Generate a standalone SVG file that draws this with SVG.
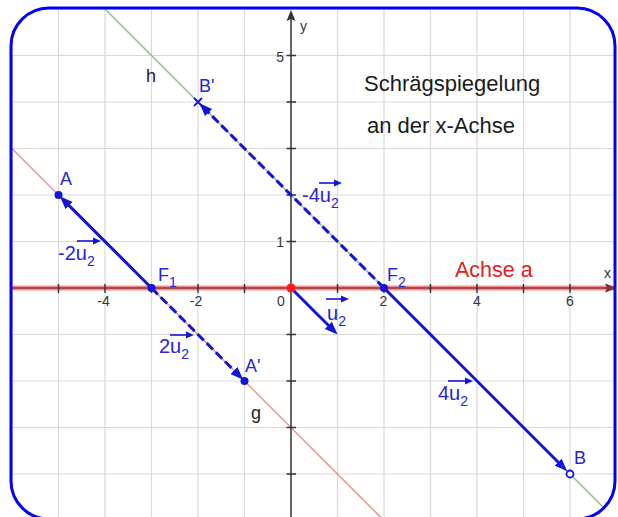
<svg xmlns="http://www.w3.org/2000/svg" width="618" height="517" viewBox="0 0 618 517">
<style>
.grid{stroke:#d9d9d9;stroke-width:1.2;fill:none}
.axis{stroke:#333;stroke-width:1.5;fill:none}
.tick{stroke:#333;stroke-width:1.4}
.albl{font-family:"Liberation Sans",Arial,sans-serif;font-size:14px;fill:#333}
.vec{stroke:#1414d9;stroke-width:3;fill:none;marker-end:url(#ah)}
.dash{stroke-dasharray:9 4}
.ov{stroke:#1414d9;stroke-width:1.6;fill:none;marker-end:url(#sa)}
.blue{font-family:"Liberation Sans",Arial,sans-serif;font-size:18px;fill:#2626d2}
.vl{font-family:"Liberation Sans",Arial,sans-serif;font-size:20px;fill:#2626d2}
.sub{font-size:14px}
.blk{font-family:"Liberation Sans",Arial,sans-serif;font-size:18px;fill:#222}
.title{font-family:"Liberation Sans",Arial,sans-serif;font-size:22px;fill:#1a1a1a}
.pt{fill:#1414d9}
</style>
<defs>
<clipPath id="frameClip"><rect x="11" y="8" width="604" height="511" rx="38" ry="38"/></clipPath>
<marker id="ah" markerUnits="userSpaceOnUse" markerWidth="14" markerHeight="12" viewBox="0 0 14 12" refX="7" refY="6" orient="auto"><path d="M0,1 L13,6 L0,11 z" fill="#1414d9"/></marker>
<marker id="sa" markerUnits="userSpaceOnUse" markerWidth="9" markerHeight="8" viewBox="0 0 9 8" refX="4" refY="4" orient="auto"><path d="M0,0.5 L8,4 L0,7.5 z" fill="#1414d9"/></marker>
</defs>
<rect x="0" y="0" width="618" height="517" fill="#fff"/>
<g clip-path="url(#frameClip)">
<g id="grid" class="grid">
<path d="M12,0V517M58.5,0V517M105,0V517M151.5,0V517M198,0V517M244.5,0V517M337.5,0V517M384,0V517M430.5,0V517M477,0V517M523.5,0V517M570,0V517"/>
<path d="M0,9H618M0,55.5H618M0,102H618M0,148.5H618M0,195H618M0,241.5H618M0,334.5H618M0,381H618M0,427.5H618M0,474H618"/>
</g>
<g id="line-g"><line x1="-10" y1="126.5" x2="410" y2="546.5" stroke="#ee9090" stroke-width="1.5"/></g>
<g id="line-h"><line x1="80" y1="-16" x2="650" y2="554" stroke="#90bf90" stroke-width="1.5"/></g>
<g id="axes">
<line class="axis" x1="291" y1="517" x2="291" y2="18"/>
<polygon points="291,10 295.5,21 291,19 286.5,21" fill="#333"/>
<line class="axis" x1="0" y1="288" x2="608" y2="288"/>
<polygon points="617,288 605,283.5 607,288 605,292.5" fill="#333"/>
<line id="achse-a" x1="0" y1="288" x2="618" y2="288" stroke="#e83030" stroke-opacity="0.55" stroke-width="5"/>
<path class="tick" d="M286.5,55.5H296M286.5,102H296M286.5,148.5H296M286.5,195H296M286.5,241.5H296M286.5,334.5H296M286.5,381H296M286.5,427.5H296M286.5,474H296"/>
<path class="tick" d="M58.5,284V293M105,284V293M151.5,284V293M198,284V293M244.5,284V293M337.5,284V293M384,284V293M430.5,284V293M477,284V293M523.5,284V293M570,284V293"/>
<text class="albl" x="300" y="31">y</text>
<text class="albl" x="604" y="278">x</text>
<text class="albl" x="284" y="62" text-anchor="end">5</text>
<text class="albl" x="284" y="247" text-anchor="end">1</text>
<text class="albl" x="103.5" y="306" text-anchor="middle">-4</text>
<text class="albl" x="196" y="306" text-anchor="middle">-2</text>
<text class="albl" x="281" y="306" text-anchor="middle">0</text>
<text class="albl" x="383.5" y="306" text-anchor="middle">2</text>
<text class="albl" x="477" y="306" text-anchor="middle">4</text>
<text class="albl" x="570" y="306" text-anchor="middle">6</text>
</g>
</g>
<g id="connectors">
<line class="vec" x1="151.5" y1="288" x2="64.1" y2="200.6"/>
<line class="vec dash" x1="151.5" y1="288" x2="238.9" y2="375.4"/>
<line class="vec dash" x1="384" y1="288" x2="203.6" y2="107.6"/>
<line class="vec" x1="384" y1="288" x2="563" y2="467"/>
<line class="vec" x1="291" y1="288" x2="333.3" y2="330.3"/>
</g>
<g id="vector-labels">
<g id="lbl-m2u2"><text class="vl" x="58" y="260">-2u<tspan class="sub" dy="6">2</tspan></text><line class="ov" x1="77" y1="241" x2="97" y2="241"/></g>
<g id="lbl-2u2"><text class="vl" x="159" y="353">2u<tspan class="sub" dy="6">2</tspan></text><line class="ov" x1="170" y1="335" x2="190" y2="335"/></g>
<g id="lbl-m4u2"><text class="vl" x="302" y="202">-4u<tspan class="sub" dy="6">2</tspan></text><line class="ov" x1="319" y1="183" x2="338" y2="183"/></g>
<g id="lbl-u2"><text class="vl" x="327" y="320">u<tspan class="sub" dy="6">2</tspan></text><line class="ov" x1="326" y1="299" x2="345" y2="299"/></g>
<g id="lbl-4u2"><text class="vl" x="438" y="400">4u<tspan class="sub" dy="6">2</tspan></text><line class="ov" x1="448" y1="381" x2="469" y2="381"/></g>
</g>
<g id="O"><circle cx="291" cy="288" r="4.5" fill="#ff1a1a"/></g>
<g id="A"><circle class="pt" cx="58.5" cy="195" r="4"/><text class="blue" x="60" y="185">A</text></g>
<g id="F1"><circle class="pt" cx="151.5" cy="288" r="4"/><text class="blue" x="158" y="281">F<tspan class="sub" dy="6">1</tspan></text></g>
<g id="A-prime"><circle class="pt" cx="244.5" cy="381" r="4"/><text class="blue" x="245" y="372">A'</text></g>
<g id="F2"><circle class="pt" cx="384" cy="288" r="4"/><text class="blue" x="387" y="281">F<tspan class="sub" dy="6">2</tspan></text></g>
<g id="B-prime"><path d="M194,98L202,106M202,98L194,106" stroke="#1414d9" stroke-width="1.8"/><text class="blue" x="199" y="92">B'</text></g>
<g id="B"><circle cx="570" cy="474" r="3.5" fill="#fff" stroke="#1414d9" stroke-width="1.8"/><text class="blue" x="574" y="464">B</text></g>
<g id="h-label"><text class="blk" x="146" y="82">h</text></g>
<g id="g-label"><text class="blk" x="251" y="419">g</text></g>
<g id="axis-label"><text x="455" y="277" font-family="Liberation Sans, Arial, sans-serif" font-size="21.5px" fill="#e32020">Achse a</text></g>
<g id="title"><text class="title" x="364" y="91">Schrägspiegelung</text><text class="title" x="367" y="133">an der x-Achse</text></g>
<rect id="frame" x="11" y="8" width="604" height="511" rx="38" ry="38" fill="none" stroke="#0000ff" stroke-width="3"/>
</svg>
